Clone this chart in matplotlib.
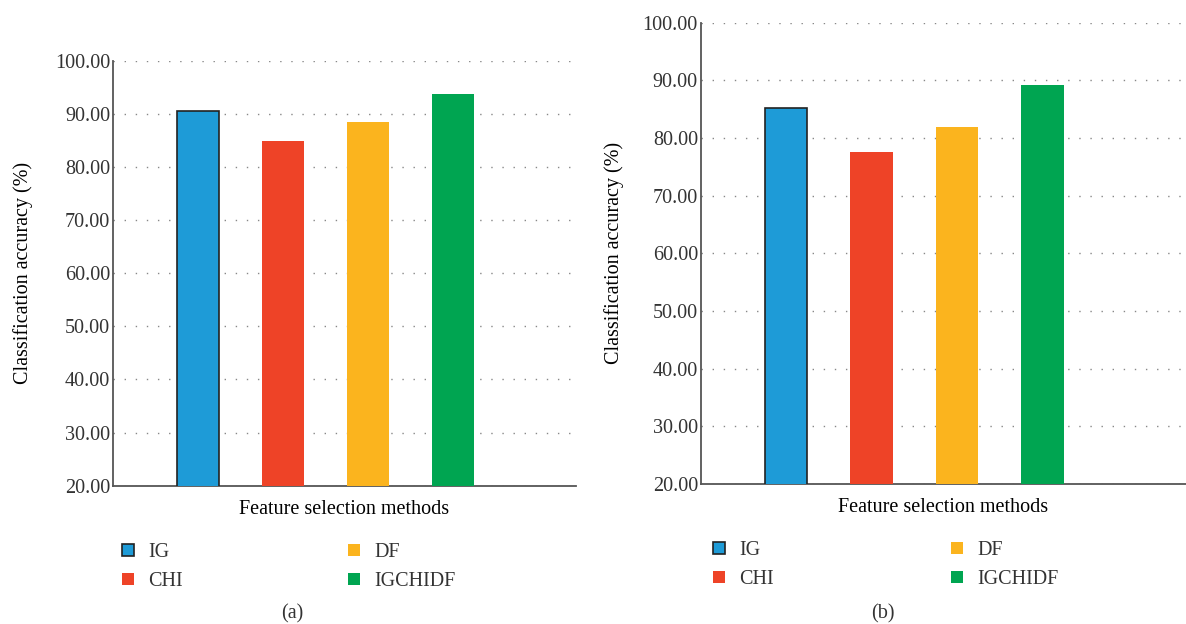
import numpy as np
import matplotlib
matplotlib.use("Agg")
import matplotlib.pyplot as plt
from matplotlib.patches import Patch

plt.rcParams['font.family'] = ['Liberation Serif', 'DejaVu Serif']
plt.rcParams['text.color'] = '#333333'

# données
methods = ['IG', 'CHI', 'DF', 'IGCHIDF']
acc_a = [90.5, 84.9, 88.5, 93.7]
acc_b = [85.2, 77.6, 81.9, 89.2]
yticks = [20, 30, 40, 50, 60, 70, 80, 90, 100]
captions = ['(a)', '(b)']

colors = ['#1e9bd7', '#ee4327', '#fbb41e', '#00a551']
edges = ['#222222', 'none', 'none', 'none']

fs = 14.5
fig = plt.figure(figsize=(11.86, 6.24), dpi=100)

# positions des axes (fraction figure)
rects = [[0.0953, 0.2216, 0.3904, 0.6811],
         [0.5908, 0.2244, 0.4092, 0.7392]]
xmax = [5.45, 5.68]
ylab_x = [-0.172, -0.158]
leg_x = [122/1186, 713/1186]
leg_y = [1 - 543/624, 1 - 541/624]
cap_x = [292/1186, 883/1186]

for k, acc in enumerate([acc_a, acc_b]):
    ax = fig.add_axes(rects[k])
    x = np.arange(1, len(methods)+1)
    ax.bar(x, acc, width=0.5, color=colors, edgecolor=edges, linewidth=1.2, zorder=3)
    ax.set_xlim(0, xmax[k])
    ax.set_ylim(20, 100)
    ax.set_yticks(yticks)
    ax.set_yticklabels(['%.2f' % v for v in yticks], fontsize=fs, color='#333333')
    ax.set_xticks([])
    ax.tick_params(axis='y', length=0, pad=2)
    ax.yaxis.grid(True, linestyle=(0, (1, 7)), color='#888888', linewidth=1.0, zorder=0)
    ax.set_axisbelow(True)
    for s in ['top', 'right']:
        ax.spines[s].set_visible(False)
    for s in ['left', 'bottom']:
        ax.spines[s].set_color('#555555')
        ax.spines[s].set_linewidth(1.3)
    ax.set_xlabel('Feature selection methods', fontsize=fs, labelpad=10)
    ax.set_ylabel('Classification accuracy (%)', fontsize=fs)
    ax.yaxis.set_label_coords(ylab_x[k], 0.5)

    handles = [Patch(facecolor=colors[i], edgecolor=edges[i], linewidth=1.2) for i in range(4)]
    colsp = 8.2 if k == 0 else 8.8
    fig.legend(handles, methods, ncol=2, loc='upper left',
               bbox_to_anchor=(leg_x[k], leg_y[k]), frameon=False,
               fontsize=fs, handlelength=0.6, handleheight=0.6,
               handletextpad=0.7, labelspacing=0.5, columnspacing=colsp,
               borderpad=0, borderaxespad=0)
    fig.text(cap_x[k], 1 - 614/624, captions[k], fontsize=fs, ha='center', va='center')

fig.savefig('out.png', dpi=100)
